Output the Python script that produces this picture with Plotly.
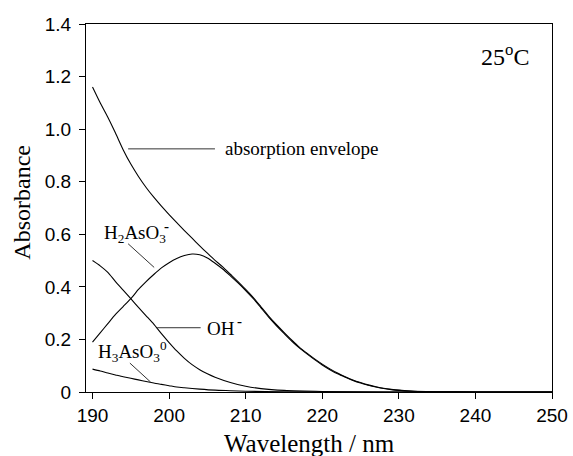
import plotly.graph_objects as go

# Wavelength grids (nm) and absorbance values
wl_env = [190, 191, 192, 193, 194, 195, 196, 197, 198, 199, 200, 201, 202, 203, 204, 205, 206,
          207, 208, 209, 210, 211, 212, 213, 214, 215, 216, 217, 218, 219, 220, 221, 222, 223,
          224, 225, 226, 227, 228, 229, 230, 232, 235, 240, 245, 250]
absorption_envelope = [1.16, 1.10, 1.045, 0.985, 0.922, 0.867, 0.82, 0.778, 0.741, 0.707, 0.675, 0.644,
                       0.614, 0.585, 0.556, 0.528, 0.501, 0.476, 0.448, 0.42, 0.39, 0.359, 0.324,
                       0.289, 0.257, 0.227, 0.198, 0.171, 0.148, 0.126, 0.106, 0.088, 0.072, 0.058,
                       0.046, 0.036, 0.027, 0.020, 0.014, 0.010, 0.007, 0.003, 0.001, 0.0, 0.0, 0.0]

wl_oh = [190, 191, 192, 193, 194, 195, 196, 197, 198, 199, 200, 201, 202, 203, 204, 205, 206,
         207, 208, 209, 210, 211, 212, 213, 214, 215, 216, 217, 218, 219, 220, 221, 222, 223,
         224, 225, 226, 227, 228, 229, 230, 232, 235, 240, 245, 250]
oh_minus = [0.19, 0.225, 0.26, 0.295, 0.325, 0.355, 0.39, 0.42, 0.447, 0.472, 0.492, 0.508, 0.519,
            0.525, 0.522, 0.51, 0.49, 0.468, 0.442, 0.415, 0.386, 0.355, 0.32, 0.285, 0.253, 0.223,
            0.194, 0.168, 0.145, 0.123, 0.103, 0.085, 0.069, 0.056, 0.044, 0.034, 0.026, 0.019,
            0.013, 0.009, 0.006, 0.003, 0.001, 0.0, 0.0, 0.0]

wl_h2 = [190, 191, 192, 193, 194, 195, 196, 197, 198, 199, 200, 201, 202, 203, 204, 205, 206,
         208, 210, 212, 215, 220, 230, 240, 250]
h2aso3_minus = [0.50, 0.48, 0.455, 0.42, 0.388, 0.355, 0.322, 0.29, 0.258, 0.222, 0.188, 0.156,
                0.128, 0.104, 0.085, 0.069, 0.056, 0.036, 0.022, 0.013, 0.006, 0.002, 0.0, 0.0, 0.0]

wl_h3 = [190, 191, 192, 193, 194, 195, 196, 197, 198, 199, 200, 201, 202, 204, 206, 208, 210,
         215, 220, 230, 240, 250]
h3aso3_0 = [0.087, 0.08, 0.072, 0.065, 0.058, 0.052, 0.046, 0.04, 0.034, 0.029, 0.024, 0.019,
            0.016, 0.011, 0.007, 0.005, 0.003, 0.001, 0.0, 0.0, 0.0, 0.0]

x_ticks = [190, 200, 210, 220, 230, 240, 250]
y_ticks = [0, 0.2, 0.4, 0.6, 0.8, 1.0, 1.2, 1.4]
y_tick_text = ["0", "0.2", "0.4", "0.6", "0.8", "1.0", "1.2", "1.4"]

fig = go.Figure()
line_style = dict(color="black", width=1.1)
for xs, ys, name in [(wl_env, absorption_envelope, "absorption envelope"),
                     (wl_oh, oh_minus, "OH-"),
                     (wl_h2, h2aso3_minus, "H2AsO3-"),
                     (wl_h3, h3aso3_0, "H3AsO3 0")]:
    fig.add_trace(go.Scatter(x=xs, y=ys, mode="lines", line=dict(shape="spline", smoothing=0.6, **line_style),
                             name=name, showlegend=False, hoverinfo="skip"))

serif = "Liberation Serif, Times New Roman, serif"
ann_font = dict(family=serif, size=19, color="black")

# leader lines
leaders = [
    (194.65, 0.925, 205.99, 0.925),
    (194.65, 0.564, 198.05, 0.474),
    (198.44, 0.2445, 204.12, 0.2445),
    (194.88, 0.110, 197.58, 0.038),
]
for x0, y0, x1, y1 in leaders:
    fig.add_shape(type="line", xref="x", yref="y", x0=x0, y0=y0, x1=x1, y1=y1,
                  line=dict(color="#333333", width=1))

fig.add_annotation(x=207.0, y=0.925, xref="x", yref="y", text="absorption envelope",
                   showarrow=False, xanchor="left", yanchor="middle", font=ann_font)
fig.add_annotation(x=191.3, y=0.60, xref="x", yref="y", text="H<sub>2</sub>AsO<sub>3</sub>",
                   showarrow=False, xanchor="left", yanchor="middle", font=ann_font)
fig.add_annotation(x=199.05, y=0.63, xref="x", yref="y", text="<b>-</b>",
                   showarrow=False, xanchor="left", yanchor="middle", font=dict(family=serif, size=15, color="black"))
fig.add_annotation(x=204.68, y=0.241, xref="x", yref="y", text="OH",
                   showarrow=False, xanchor="left", yanchor="middle", font=ann_font)
fig.add_annotation(x=208.6, y=0.27, xref="x", yref="y", text="<b>-</b>",
                   showarrow=False, xanchor="left", yanchor="middle", font=dict(family=serif, size=15, color="black"))
fig.add_annotation(x=190.4, y=0.155, xref="x", yref="y",
                   text="H<sub>3</sub>AsO<sub>3</sub><sup>0</sup>",
                   showarrow=False, xanchor="left", yanchor="middle", font=ann_font)
fig.add_annotation(x=247.3, y=1.283, xref="x", yref="y", text="25<sup>o</sup>C",
                   showarrow=False, xanchor="right", yanchor="middle",
                   font=dict(family=serif, size=24, color="black"))
# axis titles
fig.add_annotation(x=0.48, y=-0.14, xref="paper", yref="paper", text="Wavelength / nm",
                   showarrow=False, xanchor="center", yanchor="middle",
                   font=dict(family=serif, size=25, color="black"))
fig.add_annotation(x=-0.137, y=0.515, xref="paper", yref="paper", text="Absorbance",
                   showarrow=False, xanchor="center", yanchor="middle", textangle=-90,
                   font=dict(family=serif, size=24, color="black"))

tick_font = dict(family="Liberation Sans, Arial, sans-serif", size=19, color="black")
fig.update_layout(
    width=573, height=456,
    margin=dict(l=86, r=21, t=24, b=64, autoexpand=False),
    paper_bgcolor="white", plot_bgcolor="white",
    xaxis=dict(range=[189.15, 250], tickvals=x_ticks, ticks="outside", ticklen=6, tickwidth=1,
               tickcolor="black", showline=True, linecolor="black", linewidth=1.2, mirror=True,
               showgrid=False, zeroline=False, tickfont=tick_font, automargin=False),
    yaxis=dict(range=[0, 1.4], tickvals=y_ticks, ticktext=y_tick_text, ticks="outside", ticklen=6,
               tickwidth=1, tickcolor="black", showline=True, linecolor="black", linewidth=1.2,
               mirror=True, showgrid=False, zeroline=False, tickfont=tick_font, ticklabelstandoff=4,
               automargin=False),
)

fig.write_html("out.html")
